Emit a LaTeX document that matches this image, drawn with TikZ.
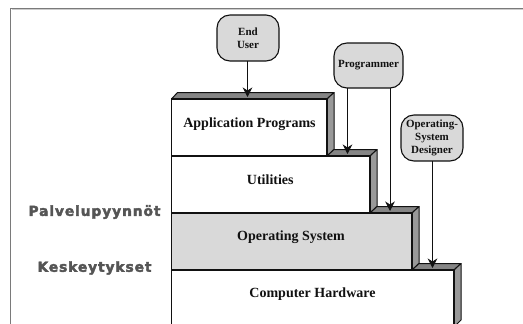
\documentclass[tikz,border=0pt]{standalone}
\usepackage{fontspec}
\setmainfont{Liberation Serif}
\newfontfamily\heavyfont[LetterSpace=6.5,FakeBold=2.8]{DejaVu Sans Bold}
\usetikzlibrary{arrows.meta}
\definecolor{facegray}{HTML}{999999}
\definecolor{topgray}{HTML}{858585}
\definecolor{lightbox}{HTML}{D9D9D9}
\definecolor{inkdark}{HTML}{111111}
\definecolor{framegray}{HTML}{7A7A7A}
\definecolor{framelight}{HTML}{CCCCCC}
\definecolor{labelgray}{HTML}{555555}
\tikzset{
  layerbox/.style={draw=inkdark,line width=1.1pt,rectangle,inner sep=0pt,outer sep=0pt,anchor=north west},
  actor/.style={draw=inkdark,fill=lightbox,line width=1.1pt,rectangle,rounded corners=13pt,inner sep=0pt,outer sep=0pt,anchor=north west,font=\bfseries\fontsize{11}{13.5}\selectfont,align=center,text=inkdark},
  layertext/.style={font=\bfseries\fontsize{14}{16}\selectfont,text=inkdark,inner sep=0pt},
  sidetext/.style={font=\heavyfont\fontsize{13.8}{15}\selectfont,text=labelgray,inner sep=0pt},
  face/.style={draw=inkdark,fill=facegray,line width=1pt,line join=round},
  topface/.style={draw=inkdark,fill=topgray,line width=1pt,line join=round},
  usearrow/.style={draw=inkdark,line width=1pt,-{Stealth[length=9.5pt,width=9.5pt,inset=3pt]}},
  framerule/.style={draw=framegray,line width=1.3pt}
}
\begin{document}
\begin{tikzpicture}[x=1pt,y=-1pt]
\useasboundingbox (0,0) rectangle (523,324);
\clip (0,0) rectangle (523,324);
\fill[white] (0,0) rectangle (523,324);
\draw[framelight,line width=0.8pt] (523,9.6) -- (11.5,9.6);
\draw[framerule] (523,8.5) -- (10.5,8.5) -- (10.5,324);

% top and side faces
\draw[topface] (171.5,99) -- (177.5,92.5) -- (334,92.5) -- (327,99) -- cycle;
\draw[face] (327,99) -- (334,92.5) -- (334,149.5) -- (327,156) -- cycle;
\draw[topface] (327,156) -- (334,149.5) -- (377,149.5) -- (370,156) -- cycle;
\draw[face] (370,156) -- (377,149.5) -- (377,206.5) -- (370,213) -- cycle;
\draw[topface] (370,213) -- (377,206.5) -- (419,206.5) -- (412,213) -- cycle;
\draw[face] (412,213) -- (419,206.5) -- (419,263.5) -- (412,270) -- cycle;
\draw[topface] (412,270) -- (419,263.5) -- (461,263.5) -- (454,270) -- cycle;
\draw[face] (454,270) -- (461,263.5) -- (461,320) -- (454,327) -- cycle;

% layers
\node[layerbox,minimum width=155.5pt,minimum height=57pt] (app) at (171.5,99) {};
\node[layerbox,minimum width=198.5pt,minimum height=57pt] (util) at (171.5,156) {};
\node[layerbox,fill=lightbox,minimum width=240.5pt,minimum height=57pt] (os) at (171.5,213) {};
\node[layerbox,minimum width=282.5pt,minimum height=62pt] (hw) at (171.5,270) {};

\node[layertext] (apptext) at (249.5,124) {Application Programs};
\node[layertext] (utiltext) at (270.3,180) {Utilities};
\node[layertext] (ostext) at (291,237.5) {Operating System};
\node[layertext] (hwtext) at (312.5,294) {Computer Hardware};

% actors
\node[actor,minimum width=62pt,minimum height=46pt] (enduser) at (217,15) {End\\User};
\node[actor,minimum width=69pt,minimum height=45pt] (programmer) at (334,43) {Programmer};
\node[actor,minimum width=62pt,minimum height=46pt] (designer) at (401,115) {Operating-\\[-0.6pt]System\\[-0.6pt]Designer};

% targets
\coordinate (apptop) at (247.5,97);
\coordinate (utiltop) at (347.5,154);
\coordinate (ostop) at (390,211);
\coordinate (hwtop) at (432.5,268);

\draw[usearrow] (enduser.south -| apptop) -- (apptop);
\draw[usearrow] (programmer.south -| utiltop) -- (utiltop);
\draw[usearrow] (programmer.south -| ostop) -- (ostop);
\draw[usearrow] (designer.south -| hwtop) -- (hwtop);

% side labels
\node[sidetext] (requests) at (94.5,212) {Palvelupyynnöt};
\node[sidetext] (interrupts) at (94.5,268) {Keskeytykset};
\end{tikzpicture}
\end{document}
